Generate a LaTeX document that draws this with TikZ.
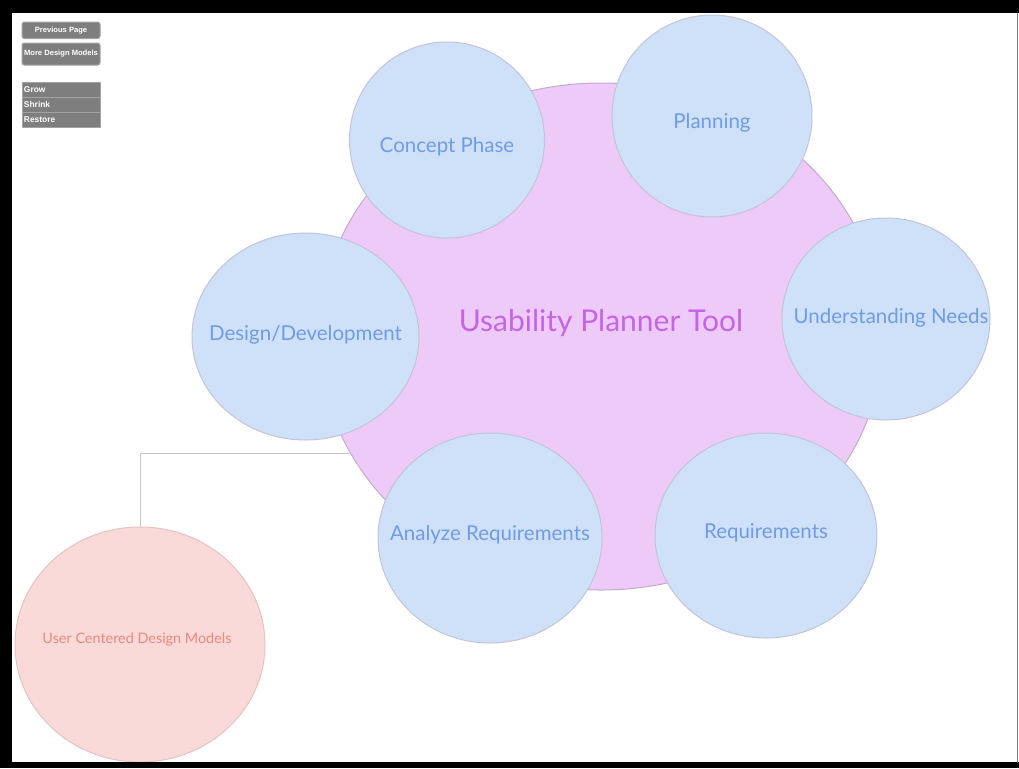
\documentclass[tikz,border=0pt]{standalone}
\usepackage{fontspec}
\setmainfont{Lato}
\newfontfamily\btnfont{Liberation Sans}
\usetikzlibrary{shapes.geometric}

\definecolor{bubblefill}{HTML}{CFE1F9}
\definecolor{bubbleline}{HTML}{C2C4DA}
\definecolor{bubbletext}{HTML}{6F9BE9}
\definecolor{toolfill}{HTML}{EECAF9}
\definecolor{toolline}{HTML}{C4ABCB}
\definecolor{tooltext}{HTML}{C464E8}
\definecolor{ucdfill}{HTML}{F9DAD8}
\definecolor{ucdline}{HTML}{E6C3C3}
\definecolor{ucdtext}{HTML}{F0877C}
\definecolor{btnfill}{HTML}{7E7E7E}
\definecolor{btnline}{HTML}{A3A3A3}
\definecolor{linkline}{HTML}{C8C8C8}

\tikzset{
  bubble/.style={ellipse,draw=bubbleline,fill=bubblefill,line width=0.5pt,inner sep=0pt},
  bubtext/.style={text=bubbletext,font=\fontsize{10.25}{12}\selectfont,anchor=base,inner sep=0pt},
  btn/.style={draw=btnline,fill=btnfill,line width=0.5pt,rounded corners=1.2pt,minimum width=39pt,inner sep=0pt,text=white,font=\btnfont\bfseries\fontsize{3.8}{4.5}\selectfont},
  sizebtn/.style={btn,rounded corners=0pt,minimum height=7.5pt,text width=37pt,align=left,inner xsep=1pt,font=\btnfont\bfseries\fontsize{4.2}{5}\selectfont}
}

\begin{document}
\begin{tikzpicture}[line cap=round,line join=round,x=0.5pt,y=-0.5pt]
\useasboundingbox (0, 0) rectangle (1019, 768);
\fill[white] (0, 0) rectangle (1019, 768);

\node[btn,minimum height=8.25pt] (prev) at (61, 30.25) {Previous Page};
\node[btn,minimum height=11pt] (more) at (61, 54) {More Design Models};

\node[sizebtn] (grow) at (61, 89.5) {Grow};
\node[sizebtn] (shrink) at (61, 104.5) {Shrink};
\node[sizebtn] (restore) at (61, 119.5) {Restore};

\node[ellipse,draw=toolline,fill=toolfill,line width=0.5pt,inner sep=0pt,minimum width=282pt,minimum height=253.5pt,
  label={[text=tooltext,font=\fontsize{15}{18}\selectfont,anchor=base,inner sep=0pt,yshift=6.75pt]center:Usability Planner Tool}] (tool) at (601, 336.5) {};

\node[bubble,minimum width=97.5pt,minimum height=98pt,label={[bubtext,yshift=-3.5pt]center:Concept Phase}] (concept) at (447, 140) {};
\node[bubble,minimum width=100pt,minimum height=101pt,label={[bubtext,yshift=-3.5pt]center:Planning}] (planning) at (712, 116) {};
\node[bubble,minimum width=104pt,minimum height=101pt,label={[bubtext,xshift=2.5pt,yshift=0.5pt]center:Understanding Needs}] (needs) at (886, 319) {};
\node[bubble,minimum width=111pt,minimum height=102.5pt,label={[bubtext,yshift=1.25pt]center:Requirements}] (reqs) at (766, 535.5) {};
\node[bubble,minimum width=112pt,minimum height=105pt,label={[bubtext,yshift=1.5pt]center:Analyze Requirements}] (analyze) at (490, 538) {};
\node[bubble,minimum width=113.5pt,minimum height=103.5pt,label={[bubtext,yshift=0.75pt]center:Design/Development}] (design) at (305.5, 336.5) {};

\node[ellipse,draw=ucdline,fill=ucdfill,line width=0.5pt,inner sep=0pt,minimum width=125pt,minimum height=117.5pt,
  label={[text=ucdtext,font=\fontsize{7.2}{9}\selectfont,anchor=base,inner sep=0pt,xshift=-1.5pt,yshift=2.75pt]center:User Centered Design Models}] (ucd) at (140, 644.5) {};

\draw[linkline,line width=0.5pt] (tool.205.4) -| (ucd.north);

\fill[black] (0, 0) rectangle (1019, 13);
\fill[black] (0, 0) rectangle (12, 768);
\fill[black] (0, 762) rectangle (1019, 768);
\draw[gray,line width=0.6pt] (1017.5, 13) -- (1017.5, 762);
\end{tikzpicture}
\end{document}
